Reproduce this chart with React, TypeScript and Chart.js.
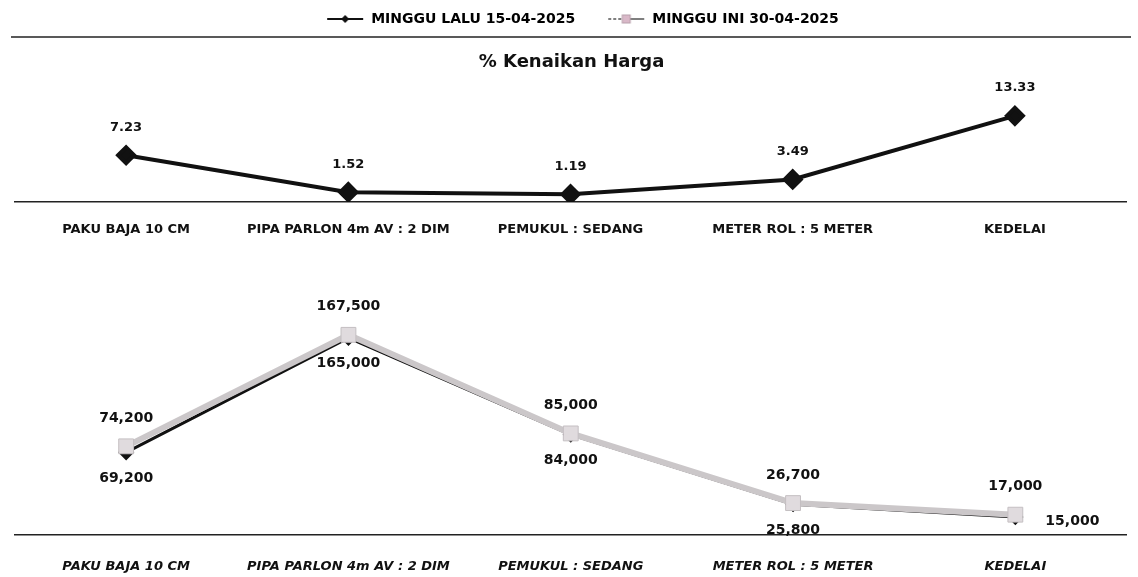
import React, { useEffect, useRef } from 'react';
import { Chart, registerables } from 'chart.js';

Chart.register(...registerables);

// ---- data ----
const categories = ['PAKU BAJA 10 CM', 'PIPA PARLON 4m AV : 2 DIM', 'PEMUKUL : SEDANG', 'METER ROL : 5 METER', 'KEDELAI'];
const kenaikanHarga = [7.23, 1.52, 1.19, 3.49, 13.33];
const mingguLalu = [69200, 165000, 84000, 25800, 15000];
const mingguIni = [74200, 167500, 85000, 26700, 17000];
const seriesNames = ['MINGGU LALU 15-04-2025', 'MINGGU INI 30-04-2025'];
const chartTitle = '% Kenaikan Harga';
const labelSideKenaikan = ['above', 'above', 'above', 'above', 'above'];
const labelSideLalu = ['below', 'below', 'below', 'below', 'right'];
const labelSideIni = ['above', 'above', 'above', 'above', 'above'];

const FONT = '"DejaVu Sans", Verdana, sans-serif';
const GRAY_LINE = '#cbc7c9';
const GRAY_FILL = '#e0dbde';

function makeLegendIcon(kind: 'lalu' | 'ini'): HTMLCanvasElement {
  const c = document.createElement('canvas');
  c.width = 60;
  c.height = 14;
  const g = c.getContext('2d')!;
  const y = 7;
  const x0 = 23;
  const x1 = 59;
  const mid = (x0 + x1) / 2;
  if (kind === 'lalu') {
    g.strokeStyle = '#111';
    g.lineWidth = 2;
    g.beginPath(); g.moveTo(x0, y); g.lineTo(x1, y); g.stroke();
    g.fillStyle = '#111';
    g.beginPath();
    g.moveTo(mid, y - 4); g.lineTo(mid + 4, y); g.lineTo(mid, y + 4); g.lineTo(mid - 4, y); g.closePath();
    g.fill();
  } else {
    g.strokeStyle = '#555';
    g.lineWidth = 1.5;
    g.setLineDash([3, 2]);
    g.beginPath(); g.moveTo(x0, y); g.lineTo(mid, y); g.stroke();
    g.setLineDash([]);
    g.beginPath(); g.moveTo(mid, y); g.lineTo(x1, y); g.stroke();
    g.fillStyle = '#d9b8c8';
    g.strokeStyle = '#b8a0ac';
    g.lineWidth = 1;
    g.fillRect(mid - 4, y - 4, 8, 8);
    g.strokeRect(mid - 4, y - 4, 8, 8);
  }
  return c;
}

function makeValueLabelPlugin(sides: string[][], format: (v: number) => string, font: string) {
  return {
    id: 'valueLabels',
    afterDatasetsDraw(chart: any) {
      const ctx = chart.ctx;
      ctx.save();
      ctx.font = font;
      ctx.fillStyle = '#111';
      ctx.textBaseline = 'middle';
      chart.data.datasets.forEach((ds: any, i: number) => {
        const meta = chart.getDatasetMeta(i);
        meta.data.forEach((pt: any, j: number) => {
          const side = sides[i][j];
          const text = format(ds.data[j]);
          let x = pt.x;
          let y = pt.y;
          ctx.textAlign = 'center';
          if (side === 'above') y -= 28;
          else if (side === 'below') y += 26;
          else if (side === 'right') { x += 30; y += 4; ctx.textAlign = 'left'; }
          ctx.fillText(text, x, y);
        });
      });
      ctx.restore();
    },
  };
}

const separatorPlugin = {
  id: 'separator',
  afterDraw(chart: any) {
    const ctx = chart.ctx;
    const lg = chart.legend;
    const y = lg ? lg.bottom + 1 : 37;
    ctx.save();
    ctx.strokeStyle = '#222';
    ctx.lineWidth = 1.5;
    ctx.beginPath();
    ctx.moveTo(11, y);
    ctx.lineTo(1131, y);
    ctx.stroke();
    ctx.restore();
  },
};

export default function App() {
  const topRef = useRef<HTMLCanvasElement>(null);
  const bottomRef = useRef<HTMLCanvasElement>(null);

  useEffect(() => {
    document.body.style.margin = '0';
    const iconLalu = makeLegendIcon('lalu');
    const iconIni = makeLegendIcon('ini');

    const top = new Chart(topRef.current!, {
      type: 'line',
      data: {
        labels: categories,
        datasets: [
          {
            label: chartTitle,
            data: kenaikanHarga,
            borderColor: '#111',
            borderWidth: 4,
            pointStyle: 'rectRot',
            pointRadius: 8,
            pointBackgroundColor: '#111',
            pointBorderColor: '#111',
            tension: 0,
          },
        ],
      },
      options: {
        animation: false,
        responsive: false,
        layout: { padding: { left: 15, right: 10, top: 2, bottom: 12 } },
        plugins: {
          legend: {
            display: true,
            position: 'top',
            weight: 3000,
            labels: {
              usePointStyle: true,
              pointStyleWidth: 60,
              padding: 10,
              color: '#111',
              font: { family: FONT, size: 14, weight: 'bold' },
              generateLabels: () => [
                { text: seriesNames[0], pointStyle: iconLalu, fillStyle: '#111', strokeStyle: '#111', lineWidth: 0, hidden: false, datasetIndex: 0 },
                { text: seriesNames[1], pointStyle: iconIni, fillStyle: '#ccc', strokeStyle: '#ccc', lineWidth: 0, hidden: false, datasetIndex: 1 },
              ],
            },
            onClick: () => {},
          },
          title: {
            display: true,
            text: chartTitle,
            color: '#111',
            font: { family: FONT, size: 18, weight: 'bold' },
            padding: { top: 16, bottom: 12 },
          },
          tooltip: { enabled: false },
        },
        scales: {
          x: {
            offset: true,
            grid: { display: true, drawOnChartArea: false, drawTicks: false },
            border: { display: true, color: '#222', width: 1.5 },
            ticks: { padding: 20, color: '#111', autoSkip: false, maxRotation: 0, font: { family: FONT, size: 13, weight: 'bold' } },
            afterFit: (scale: any) => { scale.height = 36; },
          },
          y: { display: false, min: 0, max: 18 },
        },
      },
      plugins: [
        makeValueLabelPlugin([labelSideKenaikan], (v) => v.toFixed(2), `bold 13px ${FONT}`),
        separatorPlugin,
      ],
    } as any);

    const bottom = new Chart(bottomRef.current!, {
      type: 'line',
      data: {
        labels: categories,
        datasets: [
          {
            label: seriesNames[1],
            data: mingguIni,
            borderColor: GRAY_LINE,
            borderWidth: 6,
            pointStyle: 'rect',
            pointRadius: 10.5,
            pointBackgroundColor: GRAY_FILL,
            pointBorderColor: '#c4bfc2',
            pointBorderWidth: 1,
            tension: 0,
            order: 0,
          },
          {
            label: seriesNames[0],
            data: mingguLalu,
            borderColor: '#111',
            borderWidth: 3,
            pointStyle: 'rectRot',
            pointRadius: 6,
            pointBackgroundColor: '#111',
            pointBorderColor: '#111',
            tension: 0,
            order: 1,
          },
        ],
      },
      options: {
        animation: false,
        responsive: false,
        layout: { padding: { left: 15, right: 10, top: 46, bottom: 2 } },
        plugins: {
          legend: { display: false },
          title: { display: false },
          tooltip: { enabled: false },
        },
        scales: {
          x: {
            offset: true,
            grid: { display: true, drawOnChartArea: false, drawTicks: false },
            border: { display: true, color: '#222', width: 1.5 },
            ticks: { padding: 24, color: '#111', autoSkip: false, maxRotation: 0, font: { family: FONT, size: 13, weight: 'bold', style: 'italic' } },
            afterFit: (scale: any) => { scale.height = 40; },
          },
          y: { display: false, min: 0, max: 200000 },
        },
      },
      plugins: [
        makeValueLabelPlugin([labelSideIni, labelSideLalu], (v) => v.toLocaleString('en-US'), `bold 14px ${FONT}`),
      ],
    } as any);

    return () => {
      top.destroy();
      bottom.destroy();
    };
  }, []);

  return (
    <div style={{ position: 'absolute', left: 0, top: 0, width: 1138, height: 577, background: '#fff', overflow: 'hidden' }}>
      <canvas ref={topRef} width={1138} height={250} style={{ display: 'block' }} />
      <canvas ref={bottomRef} width={1138} height={327} style={{ display: 'block' }} />
    </div>
  );
}
